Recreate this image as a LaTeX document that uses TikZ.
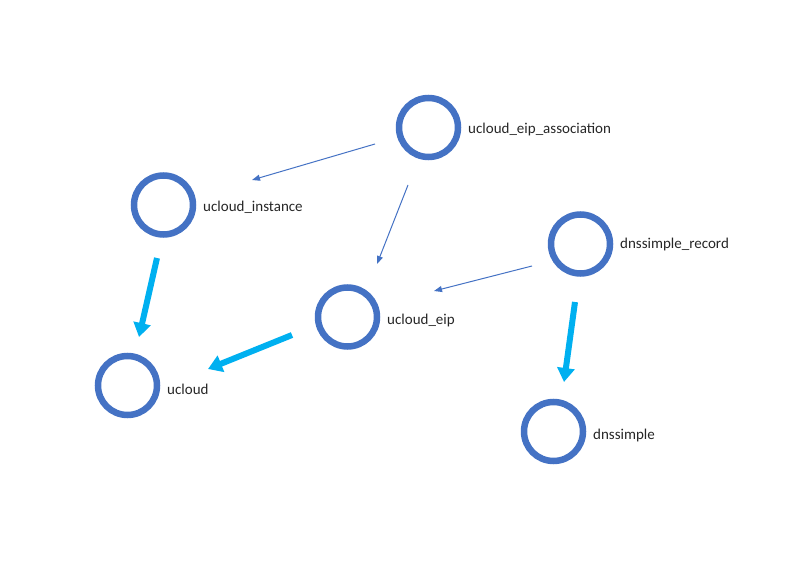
\documentclass[tikz,border=0pt]{standalone}
\usepackage{fontspec}
\setmainfont{Carlito}
\usetikzlibrary{arrows.meta,calc}
\definecolor{ringblue}{HTML}{4472C4}
\definecolor{thickcyan}{HTML}{00B0F0}
\definecolor{txt}{HTML}{262626}
\tikzset{
  ring/.style={circle,draw=ringblue,line width=6.5pt,minimum size=59pt,inner sep=0pt,fill=white},
  lbl/.style={anchor=west,inner sep=0pt,text=txt,font=\fontsize{15}{18}\selectfont},
  thinarrow/.style={draw=ringblue,line width=1pt,-{Triangle[width=6pt,length=8pt]}},
  thickarrow/.style={draw=thickcyan,line width=6pt,-{Triangle[width=17pt,length=14pt]}}
}
\begin{document}
\begin{tikzpicture}[x=1pt,y=-1pt]
\useasboundingbox (0,0) rectangle (800,564);
\node[ring] (assoc) at (428.5,127.5) {};
\node[ring] (inst) at (163.5,205) {};
\node[ring] (rec) at (580.5,244) {};
\node[ring] (eip) at (347.5,317) {};
\node[ring] (ucloud) at (127.5,385.5) {};
\node[ring] (dns) at (553.5,431.5) {};
\node[lbl] (assocL) at ($(assoc)+(39.5,2.5)$) {ucloud\_eip\_association};
\node[lbl] (instL) at ($(inst)+(39.5,2)$) {ucloud\_instance};
\node[lbl] (recL) at ($(rec)+(39.5,1)$) {dnssimple\_record};
\node[lbl] (eipL) at ($(eip)+(39.5,3)$) {ucloud\_eip};
\node[lbl] (ucloudL) at ($(ucloud)+(39.5,3.5)$) {ucloud};
\node[lbl] (dnsL) at ($(dns)+(39.5,3.5)$) {dnssimple};
\draw[thinarrow] ($(assoc)+(-53.5,16.5)$) -- ($(inst)+(88.5,-25)$);
\draw[thinarrow] ($(assoc)+(-20.5,57.5)$) -- ($(eip)+(29.5,-53)$);
\draw[thinarrow] ($(rec)+(-48.5,22)$) -- ($(eip)+(86.5,-26)$);
\draw[thickarrow] ($(inst)+(-6.5,53)$) -- ($(ucloud)+(11.5,-48.5)$);
\draw[thickarrow] ($(eip)+(-55.5,18)$) -- ($(ucloud)+(80.5,-16.5)$);
\draw[thickarrow] ($(rec)+(-5.5,58)$) -- ($(dns)+(10.5,-49.5)$);
\end{tikzpicture}
\end{document}
